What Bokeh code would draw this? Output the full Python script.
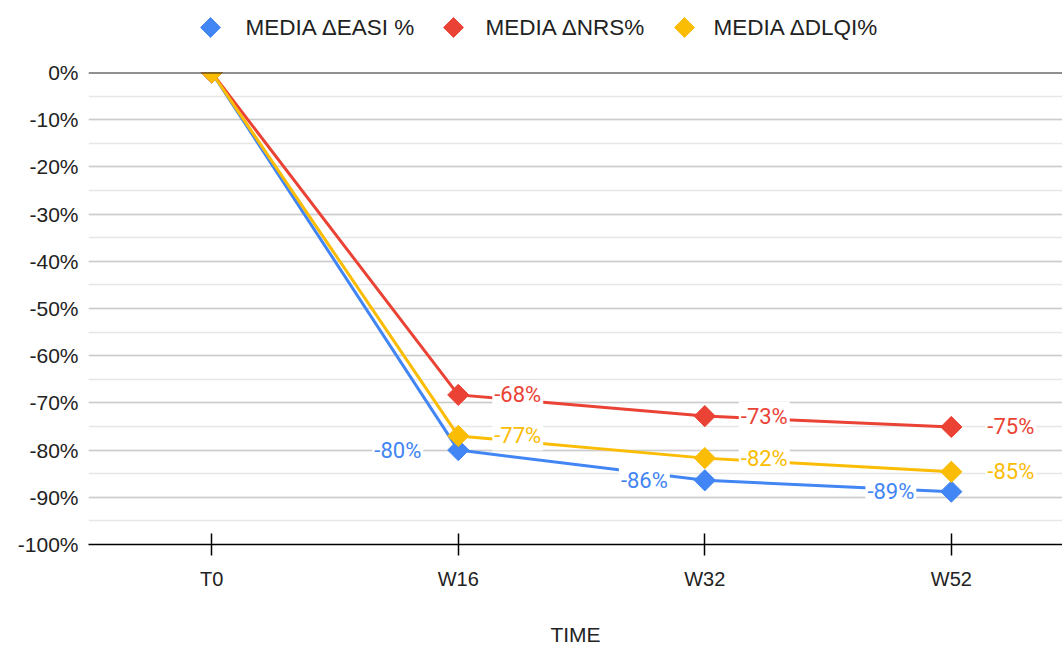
from bokeh.plotting import figure
from bokeh.models import (Range1d, SingleIntervalTicker, FixedTicker,
                          PrintfTickFormatter, Span, ColumnDataSource)
from bokeh.layouts import column
from bokeh.core.properties import value
from bokeh.embed import file_html
from bokeh.resources import INLINE
import numpy as np

# ---- data -----------------------------------------------------------------
times = ["T0", "W16", "W32", "W52"]
easi_pct = [0.0, -80.0, -86.4, -88.8]
nrs_pct = [0.0, -68.3, -72.8, -75.1]
dlqi_pct = [0.0, -77.0, -81.7, -84.6]
series_names = ["MEDIA ΔEASI %", "MEDIA ΔNRS%", "MEDIA ΔDLQI%"]
x_title = "TIME"

# ---- styling --------------------------------------------------------------
colors = ["#4285F4", "#EA4335", "#FBBC04"]
label_side = ["left", "right", "right"]
AXIS_FONT = "Liberation Sans"
LABEL_FONT = "Roboto"
TEXT_COLOR = "#222222"

W, H = 1062, 648
LEGEND_H = 52
FRAME_LEFT = 88

x_pos = list(range(len(times)))

# ---- main chart -----------------------------------------------------------
p = figure(width=W, height=H - LEGEND_H, output_backend="svg",
           toolbar_location=None,
           x_range=Range1d(-0.5, 3.451), y_range=Range1d(-100, 0),
           min_border_top=20, min_border_left=FRAME_LEFT, min_border_right=0,
           min_border_bottom=102)
p.outline_line_color = None
p.background_fill_color = "white"

# axes
p.xaxis.ticker = FixedTicker(ticks=x_pos)
p.xaxis.major_label_overrides = {i: t for i, t in enumerate(times)}
p.xaxis.axis_line_color = "#000000"
p.xaxis.axis_line_width = 1.5
p.xaxis.major_tick_line_color = "#000000"
p.xaxis.major_tick_line_width = 1.5
p.xaxis.major_tick_in = 11
p.xaxis.major_tick_out = 11
p.xaxis.minor_tick_line_color = None
p.xaxis.major_label_standoff = 12
p.xaxis.major_label_text_font = AXIS_FONT
p.xaxis.major_label_text_font_size = "20px"
p.xaxis.major_label_text_color = TEXT_COLOR
p.xaxis.axis_label = x_title
p.xaxis.axis_label_text_font = AXIS_FONT
p.xaxis.axis_label_text_font_size = "21px"
p.xaxis.axis_label_text_font_style = "normal"
p.xaxis.axis_label_text_color = TEXT_COLOR
p.xaxis.axis_label_standoff = 30

yticker = SingleIntervalTicker(interval=10, num_minor_ticks=2)
p.yaxis.ticker = yticker
p.yaxis.formatter = PrintfTickFormatter(format="%d%%")
p.yaxis.axis_line_color = None
p.yaxis.major_tick_line_color = None
p.yaxis.minor_tick_line_color = None
p.yaxis.major_tick_out = 0
p.yaxis.major_tick_in = 0
p.yaxis.major_label_standoff = 6
p.yaxis.major_label_text_font = AXIS_FONT
p.yaxis.major_label_text_font_size = "21px"
p.yaxis.major_label_text_color = TEXT_COLOR

# grid
p.xgrid.grid_line_color = None
p.ygrid.ticker = yticker
p.ygrid.grid_line_color = "#cccccc"
p.ygrid.grid_line_width = 1.3
p.ygrid.minor_grid_line_color = "#e6e6e6"
p.ygrid.minor_grid_line_width = 1.3

# series
series = [easi_pct, nrs_pct, dlqi_pct]
for vals, col in zip(series, colors):
    src = ColumnDataSource(dict(x=x_pos, y=vals))
    p.line("x", "y", source=src, line_color=col, line_width=3)
    p.scatter("x", "y", source=src, marker="square", angle=np.pi / 4,
              size=15, fill_color=col, line_color=col)

# value labels (the T0 baseline point carries none)
for vals, col, side in zip(series, colors, label_side):
    lsrc = ColumnDataSource(dict(
        x=x_pos[1:], y=vals[1:],
        lbl=[f"{round(v):d}%" for v in vals[1:]],
    ))
    p.text("x", "y", text="lbl", source=lsrc,
           x_offset=34 if side == "right" else -35,
           text_align="left" if side == "right" else "right",
           text_baseline="middle",
           text_font=value(LABEL_FONT), text_font_size="22px",
           text_color=col,
           background_fill_color="white", padding=2)

# dark zero baseline
p.add_layout(Span(location=0, dimension="width",
                  line_color="#222222", line_width=2))

# ---- legend strip (shares the chart's frame alignment) --------------------
lg = figure(width=W, height=LEGEND_H, output_backend="svg",
            toolbar_location=None,
            x_range=Range1d(FRAME_LEFT, W), y_range=Range1d(0, LEGEND_H),
            x_axis_location=None, y_axis_location=None,
            min_border_top=0, min_border_bottom=0,
            min_border_left=FRAME_LEFT, min_border_right=0)
lg.outline_line_color = None
lg.grid.visible = False

legend_marker_x = [210, 453, 684]
legend_text_x = [245, 485, 713]
legend_y = LEGEND_H / 2 - 1
lg.scatter(legend_marker_x, [legend_y] * 3, marker="square",
           angle=np.pi / 4, size=14, fill_color=colors, line_color=colors)
lg.text(legend_text_x, [legend_y] * 3, text=series_names,
        text_align="left", text_baseline="middle",
        text_font=value(AXIS_FONT), text_font_size="22.5px",
        text_color=TEXT_COLOR)

layout = column(lg, p, spacing=0)

open("out.html", "w").write(file_html(layout, INLINE))
